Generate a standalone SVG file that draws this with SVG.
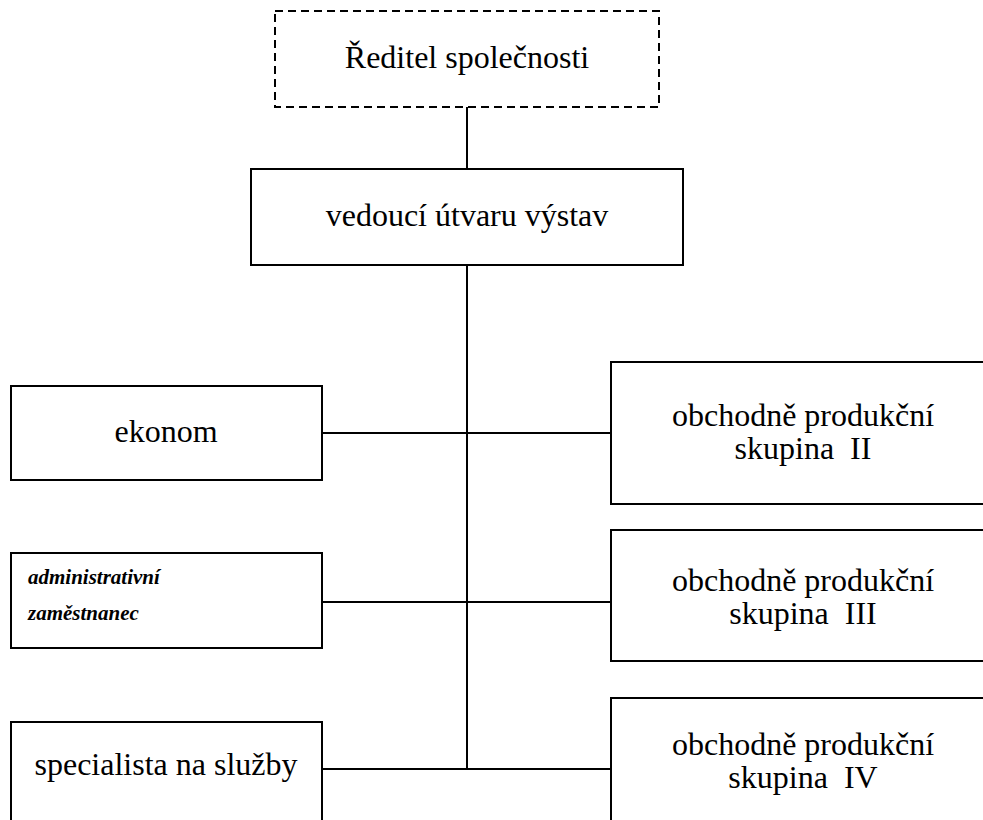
<svg xmlns="http://www.w3.org/2000/svg" width="983" height="820" viewBox="0 0 983 820">
  <style>
    .box { fill: #fff; stroke: #000; stroke-width: 2; }
    .dashed { stroke-dasharray: 8 5; }
    .lbl { font-size: 32px; fill: #000; text-anchor: middle; white-space: pre; }
    .small { font-size: 21px; font-weight: bold; font-style: italic; fill: #000; }
    .wire { stroke: #000; stroke-width: 2; fill: none; }
  </style>
  <rect width="983" height="820" fill="#fff"/>

  <g id="connectors">
    <line class="wire" x1="467" y1="107" x2="467" y2="169"/>
    <line class="wire" x1="467" y1="265" x2="467" y2="769"/>
    <line class="wire" x1="322" y1="433" x2="611" y2="433"/>
    <line class="wire" x1="322" y1="602" x2="611" y2="602"/>
    <line class="wire" x1="322" y1="769" x2="611" y2="769"/>
  </g>

  <g font-family="'Liberation Serif', Tinos, 'Times New Roman', 'DejaVu Serif', serif">
    <g id="reditel">
      <rect class="box dashed" x="275" y="11" width="384" height="96"/>
      <text class="lbl" x="467" y="68">Ředitel společnosti</text>
    </g>

    <g id="vedouci">
      <rect class="box" x="251" y="169" width="432" height="96"/>
      <text class="lbl" x="467" y="226">vedoucí útvaru výstav</text>
    </g>

    <g id="ekonom">
      <rect class="box" x="11" y="386" width="311" height="94"/>
      <text class="lbl" x="166" y="442">ekonom</text>
    </g>

    <g id="administrativni">
      <rect class="box" x="11" y="553" width="311" height="95"/>
      <text class="small" x="28" y="584">administrativní</text>
      <text class="small" x="28" y="620">zaměstnanec</text>
    </g>

    <g id="specialista">
      <rect class="box" x="11" y="722" width="311" height="110"/>
      <text class="lbl" x="166" y="775">specialista na služby</text>
    </g>

    <g id="skupina2">
      <rect class="box" x="611" y="362" width="384" height="142"/>
      <text class="lbl" x="803" y="426">obchodně produkční</text>
      <text class="lbl" x="803" y="459">skupina  II</text>
    </g>

    <g id="skupina3">
      <rect class="box" x="611" y="530" width="384" height="131"/>
      <text class="lbl" x="803" y="591">obchodně produkční</text>
      <text class="lbl" x="803" y="624">skupina  III</text>
    </g>

    <g id="skupina4">
      <rect class="box" x="611" y="698" width="384" height="134"/>
      <text class="lbl" x="803" y="755">obchodně produkční</text>
      <text class="lbl" x="803" y="788">skupina  IV</text>
    </g>
  </g>
</svg>
